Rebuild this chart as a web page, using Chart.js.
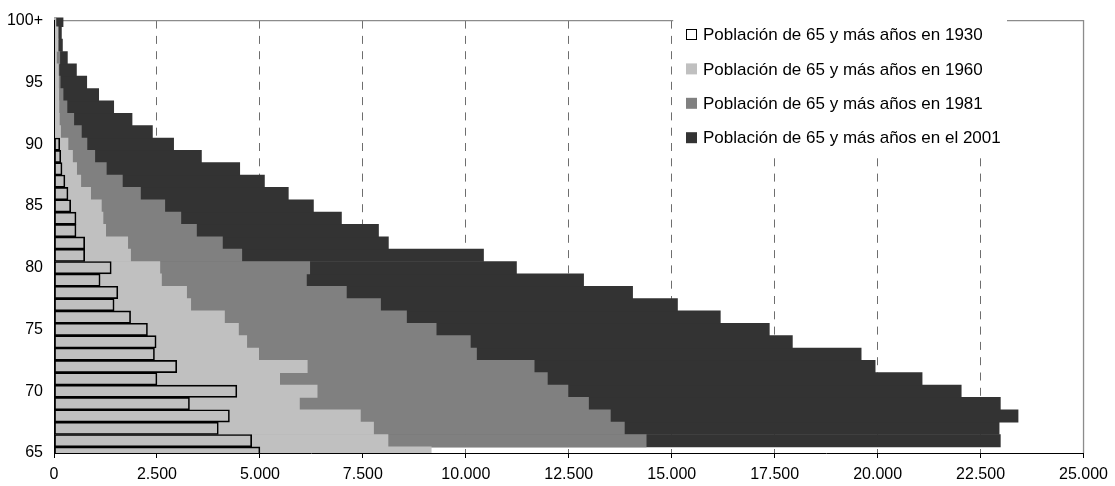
<!DOCTYPE html>
<html>
<head>
<meta charset="utf-8">
<script src="https://cdn.jsdelivr.net/npm/chart.js@4.4.1/dist/chart.umd.min.js"></script>
<style>
html,body{margin:0;padding:0;background:#fff;}
#wrap{width:1115px;height:486px;position:relative;}
canvas{display:block;}
</style>
</head>
<body>
<div id="wrap"><canvas id="c" width="1115" height="486"></canvas></div>
<script>
// Age groups (bottom to top)
const ages = ['65','66','67','68','69','70','71','72','73','74','75','76','77','78','79','80',
  '81','82','83','84','85','86','87','88','89','90','91','92','93','94','95','96','97','98','99','100+'];

const seriesLabels = [
  'Población de 65 y más años en 1930',
  'Población de 65 y más años en 1960',
  'Población de 65 y más años en 1981',
  'Población de 65 y más años en el 2001'
];

const pop1930 = [5000, 4800, 3990, 4260, 3290, 4440, 2500, 2980, 2440, 2480, 2270, 1860, 1460, 1550, 1120, 1390,
  745, 745, 535, 535, 405, 340, 265, 195, 165, 140, null, null, null, null, null, null, null, null, null, null];

const pop1960 = [9160, 8110, 7760, 7440, 5960, 6390, 5480, 6150, 4970, 4680, 4480, 4140, 3320, 3220, 2610, 2570,
  1860, 1790, 1255, 1190, 1150, 890, 650, 550, 450, 340, 160, 130, 120, 115, 110, 105, 60, 100, 100, 40];

const pop1981 = [null, 14380, 13850, 13510, 12980, 12480, 11980, 11660, 10260, 10110, 9280, 8560, 7930, 7100, 6130, 6210,
  4560, 4090, 3460, 3080, 2690, 2100, 1660, 1270, 990, 800, 665, 480, 315, 220, 150, 120, 140, 80, 60, 50];

const pop2001 = [null, 22980, 22950, 23410, 22980, 22030, 21080, 19940, 19600, 17930, 17370, 16180, 15140, 14050, 12860, 11230,
  10430, 8120, 7880, 6980, 6300, 5690, 5110, 4510, 3580, 2905, 2390, 1895, 1450, 1085, 795, 545, 325, 205, 180, 220];

const xMin = 0, xMax = 25000, xStep = 2500;

const colors = ['rgba(0,0,0,0)', '#c0c0c0', '#808080', '#333333'];
const legendFills = ['#ffffff', '#c0c0c0', '#808080', '#333333'];

function fmtThousands(v) {
  return String(Math.round(v)).replace(/\B(?=(\d{3})+(?!\d))/g, '.');
}

const tickFont = {family: "'Liberation Sans', Arial, sans-serif", size: 16};

const framePlugin = {
  id: 'frame',
  beforeDatasetsDraw(chart) {
    const {ctx, chartArea: a} = chart;
    ctx.save();
    ctx.strokeStyle = '#8c8c8c';
    ctx.lineWidth = 1.3;
    ctx.beginPath();
    ctx.moveTo(a.left, a.top);
    ctx.lineTo(a.right, a.top);
    ctx.lineTo(a.right, a.bottom);
    ctx.stroke();
    ctx.restore();
  }
};

const boxLegend = {
  id: 'boxLegend',
  afterDraw(chart) {
    const ctx = chart.ctx;
    const xs = chart.scales.x;
    const left = xs.getPixelForValue(15000) + 1.5;
    const right = 1007;
    const top = 10, bottom = 158;
    ctx.save();
    ctx.fillStyle = '#fff';
    ctx.fillRect(left, top, right - left, bottom - top);
    ctx.font = "17px 'Liberation Sans', Arial, sans-serif";
    ctx.textBaseline = 'middle';
    ctx.textAlign = 'left';
    chart.data.datasets.forEach((ds, i) => {
      const cy = 34.5 + i * 34.4;
      const bx = 686, bs = 11;
      ctx.fillStyle = legendFills[i];
      ctx.fillRect(bx, cy - bs / 2, bs, bs);
      if (i === 0) {
        ctx.strokeStyle = '#000';
        ctx.lineWidth = 1;
        ctx.strokeRect(bx + 0.5, cy - bs / 2 + 0.5, bs - 1, bs - 1);
      }
      ctx.fillStyle = '#000';
      ctx.fillText(ds.label, 703, cy + 1);
    });
    ctx.restore();
  }
};

const ctx = document.getElementById('c').getContext('2d');
new Chart(ctx, {
  type: 'bar',
  data: {
    labels: ages,
    datasets: [
      {label: seriesLabels[0], data: pop1930, backgroundColor: colors[0], borderColor: '#000', borderWidth: 1, borderSkipped: false},
      {label: seriesLabels[1], data: pop1960, backgroundColor: colors[1], borderWidth: 0},
      {label: seriesLabels[2], data: pop1981, backgroundColor: colors[2], borderWidth: 0},
      {label: seriesLabels[3], data: pop2001, backgroundColor: colors[3], borderWidth: 0}
    ]
  },
  options: {
    indexAxis: 'y',
    responsive: false,
    animation: false,
    devicePixelRatio: 1,
    datasets: {
      bar: {grouped: false, barPercentage: 1, categoryPercentage: 1, clip: {left: 0, top: 3, right: 0, bottom: 0}}
    },
    layout: {padding: {top: 19, right: 31, left: 0, bottom: 0}},
    plugins: {legend: {display: false}, tooltip: {enabled: false}},
    scales: {
      x: {
        type: 'linear', min: xMin, max: xMax,
        ticks: {stepSize: xStep, autoSkip: false, maxRotation: 0, color: '#000', font: tickFont, padding: 7,
          callback: v => fmtThousands(v)},
        grid: {
          color: c => (c.tick && (c.tick.value === xMin || c.tick.value === xMax)) ? 'rgba(0,0,0,0)' : '#6e6e6e',
          lineWidth: 1, tickLength: 5, tickColor: '#000', tickWidth: 1
        },
        border: {color: '#000', width: 1, dash: [8, 7.3], z: 1},
        afterFit: s => { s.height = 33; }
      },
      y: {
        type: 'category', reverse: true, offset: false,
        ticks: {autoSkip: false, color: '#000', font: tickFont, padding: 11,
          callback: function(v, i) { return i % 5 === 0 ? this.getLabelForValue(v) : ''; }},
        grid: {display: false, drawTicks: false},
        border: {color: '#000', width: 1, z: 1},
        afterFit: s => { s.width = 54; }
      }
    }
  },
  plugins: [framePlugin, boxLegend]
});
</script>
</body>
</html>
